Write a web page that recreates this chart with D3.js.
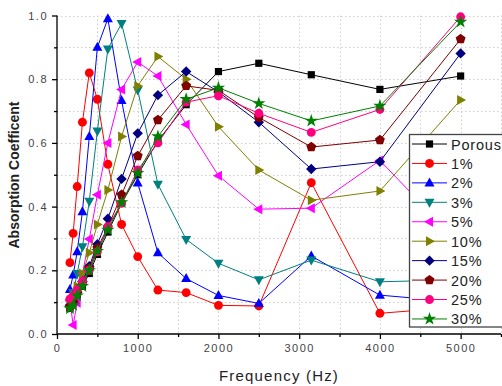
<!DOCTYPE html>
<html><head><meta charset="utf-8">
<script src="https://cdn.jsdelivr.net/npm/d3@7"></script>
<style>body{margin:0;background:#fff}svg{display:block}</style>
</head><body>
<script>
const freqs = [160,200,250,315,400,500,630,800,1000,1250,1600,2000,2500,3150,4000,5000];
const seriesNames = ["Porous","1%","2%","3%","5%","10%","15%","20%","25%","30%"];
const porous = [0.08,0.10,0.12,0.15,0.19,0.25,0.32,0.41,0.50,0.606,0.72,0.824,0.85,0.814,0.768,0.81];
const p1  = [0.224,0.316,0.463,0.665,0.82,0.737,0.533,0.344,0.243,0.138,0.13,0.09,0.088,0.475,0.065,0.085];
const p2  = [0.14,0.185,0.258,0.384,0.62,0.9,0.99,0.733,0.474,0.255,0.174,0.121,0.096,0.245,0.122,0.1];
const p3  = [0.10,0.13,0.19,0.274,0.417,0.637,0.895,0.975,0.766,0.47,0.297,0.222,0.17,0.232,0.164,0.17];
const p5  = [0.105,0.028,0.098,0.19,0.298,0.437,0.6,0.768,0.854,0.81,0.658,0.497,0.392,0.395,0.545,0.28];
const p10 = [0.095,0.12,0.15,0.19,0.255,0.344,0.452,0.62,0.779,0.871,0.8,0.651,0.515,0.42,0.449,0.735];
const p15 = [0.09,0.1,0.13,0.165,0.213,0.282,0.362,0.487,0.63,0.75,0.824,0.76,0.665,0.518,0.541,0.881];
const p20 = [0.085,0.1,0.13,0.16,0.206,0.27,0.335,0.437,0.559,0.672,0.779,0.765,0.68,0.587,0.609,0.926];
const p25 = [0.11,0.12,0.14,0.165,0.2,0.258,0.337,0.41,0.515,0.6,0.728,0.748,0.693,0.633,0.705,0.996];
const p30 = [0.08,0.09,0.12,0.15,0.2,0.26,0.327,0.413,0.505,0.62,0.737,0.773,0.724,0.669,0.716,0.98];
const xTicks = [0,1000,2000,3000,4000,5000];
const yTicks = [0,0.2,0.4,0.6,0.8,1.0];

const allValues = [porous,p1,p2,p3,p5,p10,p15,p20,p25,p30];
const colors = ["#000000","#ff0000","#0000ff","#008080","#ff00ff","#808000","#000080","#800000","#ff0080","#008000"];
const shapes = ["square","circle","triUp","triDown","triLeft","triRight","diamond","pentagon","circle","star"];

const W=502,H=386;
const svg=d3.select("body").append("svg").attr("width",W).attr("height",H);
const x=d3.scaleLinear().domain([0,5500]).range([57,501]);
const y=d3.scaleLinear().domain([0,1]).range([334,15.5]);

// grid
const grid=svg.append("g").attr("stroke","#cfcfcf").attr("stroke-width",1).attr("stroke-dasharray","1.5,2.5");
d3.range(500,5501,500).forEach(v=>grid.append("line").attr("x1",Math.round(x(v))+0.5).attr("x2",Math.round(x(v))+0.5).attr("y1",y(1)).attr("y2",y(0)));
d3.range(1,11).forEach(i=>{const v=i/10;grid.append("line").attr("x1",x(0)).attr("x2",501).attr("y1",Math.round(y(v))+0.5).attr("y2",Math.round(y(v))+0.5);});

// axes
const font="Liberation Sans, Arial, sans-serif";
const gx=svg.append("g").attr("transform",`translate(0,${y(0)})`)
 .call(d3.axisBottom(x).tickValues(xTicks).tickSize(5).tickPadding(5).tickFormat(d3.format("d")));
const gxm=svg.append("g").attr("transform",`translate(0,${y(0)})`)
 .call(d3.axisBottom(x).tickValues(d3.range(500,5501,1000)).tickSize(3).tickFormat(""));
gxm.select(".domain").remove();
const gy=svg.append("g").attr("transform",`translate(${x(0)},0)`)
 .call(d3.axisLeft(y).tickValues(yTicks).tickSize(5).tickPadding(4).tickFormat(d3.format(".1f")));
const gym=svg.append("g").attr("transform",`translate(${x(0)},0)`)
 .call(d3.axisLeft(y).tickValues([0.1,0.3,0.5,0.7,0.9]).tickSize(3).tickFormat(""));
gym.select(".domain").remove();
[gx,gxm,gy,gym].forEach(g=>{g.selectAll("path,line").attr("stroke","#000").attr("stroke-width",1.3);
 g.selectAll("text").attr("font-family",font).attr("font-size",11).attr("fill","#444").attr("letter-spacing","1.5px");});
gx.select(".domain").attr("d",`M${x(0)},0H501`);
gy.select(".domain").attr("d",`M0,${y(0)}V${y(1)}`);

svg.append("text").attr("x",279).attr("y",381).attr("text-anchor","middle").attr("font-family",font)
 .attr("font-size",15).attr("letter-spacing","1.2px").attr("fill","#222").text("Frequency (Hz)");
svg.append("text").attr("transform","translate(19,175) rotate(-90)").attr("text-anchor","middle").attr("font-family",font)
 .attr("font-size",14).attr("font-weight","bold").attr("fill","#222").text("Absorption Coefficent");

function symPath(shape){
  switch(shape){
    case "square": return `M-3.6,-3.6H3.6V3.6H-3.6Z`;
    case "circle": return d3.symbol(d3.symbolCircle,62)();
    case "triUp": return `M0,-5.5L5,3.5L-5,3.5Z`;
    case "triDown": return `M0,5.5L5,-3.5L-5,-3.5Z`;
    case "triLeft": return `M-5.5,0L3.5,-5L3.5,5Z`;
    case "triRight": return `M5.5,0L-3.5,-5L-3.5,5Z`;
    case "diamond": return `M0,-5.2L5.2,0L0,5.2L-5.2,0Z`;
    case "pentagon": {const pts=d3.range(5).map(i=>{const a=-Math.PI/2+i*2*Math.PI/5;return [5.2*Math.cos(a),5.2*Math.sin(a)];});return "M"+pts.join("L")+"Z";}
    case "star": return d3.symbol(d3.symbolStar,55)();
  }
}

const line=d3.line().x((d,i)=>x(freqs[i])).y(d=>y(d));
allValues.forEach((vals,k)=>{
  const g=svg.append("g");
  g.append("path").attr("d",line(vals)).attr("fill","none").attr("stroke",colors[k]).attr("stroke-width",1);
  g.selectAll("path.m").data(vals).join("path").attr("class","m")
   .attr("transform",(d,i)=>`translate(${x(freqs[i])},${y(d)})`).attr("d",symPath(shapes[k])).attr("fill",colors[k]);
});

// legend
const lg=svg.append("g");
lg.append("rect").attr("x",409.5).attr("y",134.5).attr("width",110).attr("height",192.5).attr("fill","#fff").attr("stroke","#444").attr("stroke-width",1.3);
seriesNames.forEach((n,k)=>{
  const yy=144+k*19.44;
  lg.append("line").attr("x1",412).attr("x2",447).attr("y1",yy).attr("y2",yy).attr("stroke",colors[k]).attr("stroke-width",1);
  lg.append("path").attr("transform",`translate(429.5,${yy})`).attr("d",symPath(shapes[k])).attr("fill",colors[k]);
  lg.append("text").attr("x",451).attr("y",yy+5.5).attr("font-family",font).attr("font-size",14.5).attr("letter-spacing","0.8px").attr("fill","#222").text(n);
});
</script>
</body></html>
